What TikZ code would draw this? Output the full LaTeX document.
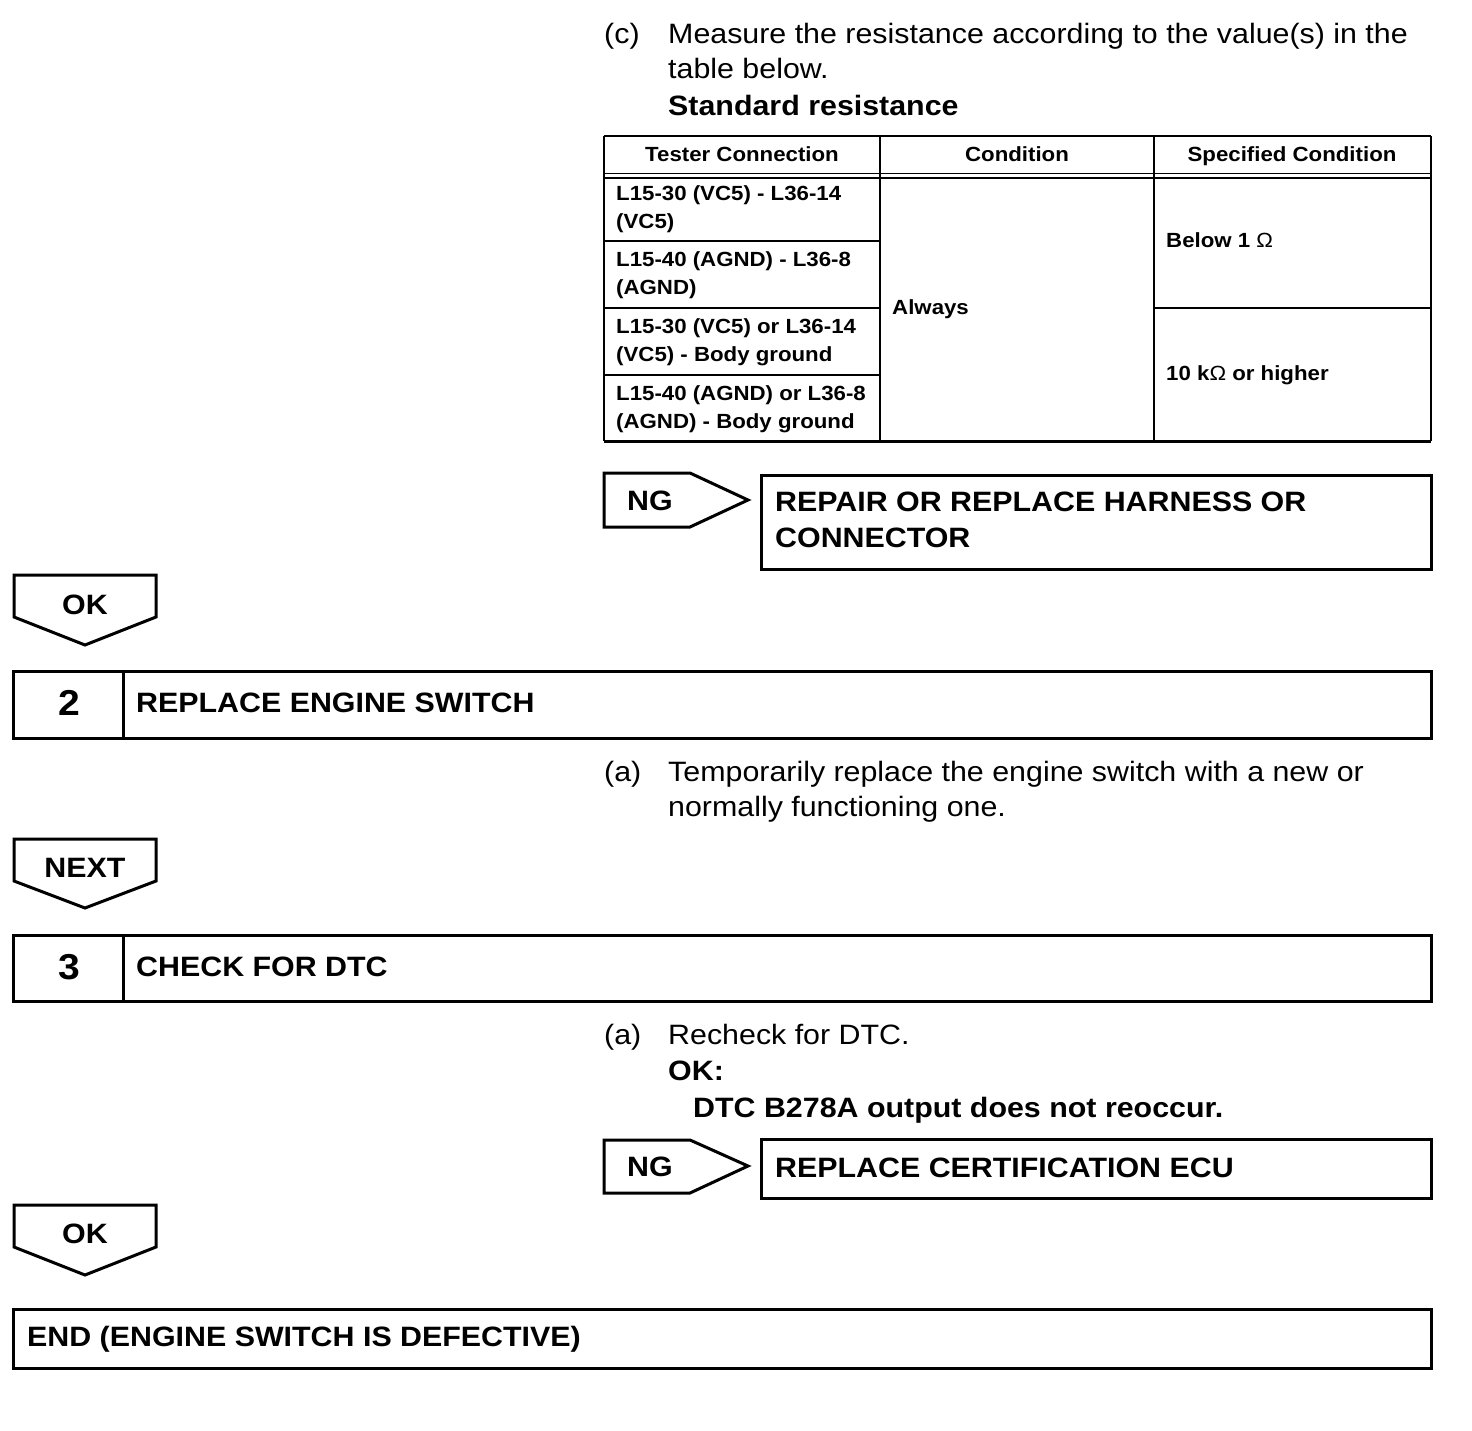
\documentclass[tikz,border=0pt]{standalone}
\usepackage{fontspec}
\setmainfont{Liberation Sans}[FakeStretch=1.085,BoldFeatures={FakeStretch=1.085}]
\begin{document}
\begin{tikzpicture}[x=1pt,y=-1pt,
  thick box/.style={line width=3pt,line join=miter},
  tab line/.style={line width=2pt},
  big/.style={font=\fontsize{28}{34}\selectfont},
  bigb/.style={font=\fontsize{28}{34}\selectfont\bfseries},
  num/.style={font=\fontsize{36}{40}\selectfont\bfseries},
  tab/.style={font=\fontsize{20.5}{28}\selectfont\bfseries},
  txt/.style={anchor=base west, inner sep=0pt},
  ctr/.style={anchor=base, inner sep=0pt}]
\useasboundingbox (0,0) rectangle (1472,1430);

% (c) instruction
\node[txt,big] (cl) at (604,43) {(c)};
\node[txt,big] (c1) at (668,43) {Measure the resistance according to the value(s) in the};
\node[txt,big] (c2) at (668,78) {table below.};
\node[txt,bigb] (c3) at (668,115) {Standard resistance};

% table
\draw[tab line] (604,136) -- (1431,136);
\draw[line width=3pt] (604,441) -- (1431,441);
\draw[tab line] (604,136) -- (604,441);
\draw[tab line] (1431,136) -- (1431,441);
\draw[line width=1.6pt] (604,173.5) -- (1431,173.5);
\draw[line width=1.6pt] (604,178) -- (1431,178);
\draw[tab line] (880,136) -- (880,441);
\draw[tab line] (1154,136) -- (1154,441);
\draw[line width=2.5pt] (604,241) -- (880,241);
\draw[line width=2.5pt] (604,308) -- (880,308);
\draw[line width=2.5pt] (604,375) -- (880,375);
\draw[tab line] (1154,308) -- (1431,308);

\node[ctr,tab] (h1) at (742,161) {Tester Connection};
\node[ctr,tab] (h2) at (1017,161) {Condition};
\node[ctr,tab] (h3) at (1292,161) {Specified Condition};

\node[txt,tab] (r1a) at (616,200.5) {L15-30 (VC5) - L36-14};
\node[txt,tab] (r1b) at (616,228.5) {(VC5)};
\node[txt,tab] (r2a) at (616,266.5) {L15-40 (AGND) - L36-8};
\node[txt,tab] (r2b) at (616,294.5) {(AGND)};
\node[txt,tab] (r3a) at (616,333.5) {L15-30 (VC5) or L36-14};
\node[txt,tab] (r3b) at (616,361.5) {(VC5) - Body ground};
\node[txt,tab] (r4a) at (616,400.5) {L15-40 (AGND) or L36-8};
\node[txt,tab] (r4b) at (616,428.5) {(AGND) - Body ground};
\node[txt,tab] (alw) at (892,314.5) {Always};
\node[txt,tab] (s1) at (1166,247.5) {Below 1 {\mdseries Ω}};
\node[txt,tab] (s2) at (1166,380.5) {10 k{\mdseries Ω} or higher};

% NG 1
\draw[thick box] (604,473) -- (690,473) -- (748,500) -- (690,527) -- (604,527) -- cycle;
\node[ctr,bigb] (ng1) at (650,510) {NG};
\draw[thick box] (761,475) rectangle (1431,569);
\node[txt,bigb] (rep1) at (775,511) {REPAIR OR REPLACE HARNESS OR};
\node[txt,bigb] (rep2) at (775,547) {CONNECTOR};

% OK 1
\draw[thick box] (14,575) -- (156,575) -- (156,617) -- (85,645) -- (14,617) -- cycle;
\node[ctr,bigb] (ok1) at (85,614) {OK};

% step 2
\draw[thick box] (13,671) rectangle (1431,738);
\draw[thick box] (123,671) -- (123,738);
\node[ctr,num] (n2) at (69,715) {2};
\node[txt,bigb] (t2) at (136,712) {REPLACE ENGINE SWITCH};

\node[txt,big] (al) at (604,781) {(a)};
\node[txt,big] (a1) at (668,781) {Temporarily replace the engine switch with a new or};
\node[txt,big] (a2) at (668,816) {normally functioning one.};

% NEXT
\draw[thick box] (14,839) -- (156,839) -- (156,881) -- (85,908) -- (14,881) -- cycle;
\node[ctr,bigb] (nx) at (85,877) {NEXT};

% step 3
\draw[thick box] (13,935) rectangle (1431,1001);
\draw[thick box] (123,935) -- (123,1001);
\node[ctr,num] (n3) at (69,979) {3};
\node[txt,bigb] (t3) at (136,976) {CHECK FOR DTC};

\node[txt,big] (bl) at (604,1044) {(a)};
\node[txt,big] (b1) at (668,1044) {Recheck for DTC.};
\node[txt,bigb] (b2) at (668,1080) {OK:};
\node[txt,bigb] (b3) at (693,1117) {DTC B278A output does not reoccur.};

% NG 2
\draw[thick box] (604,1140) -- (690,1140) -- (748,1166) -- (690,1193) -- (604,1193) -- cycle;
\node[ctr,bigb] (ng2) at (650,1176) {NG};
\draw[thick box] (761,1139) rectangle (1431,1198);
\node[txt,bigb] (rep3) at (775,1177) {REPLACE CERTIFICATION ECU};

% OK 2
\draw[thick box] (14,1205) -- (156,1205) -- (156,1247) -- (85,1275) -- (14,1247) -- cycle;
\node[ctr,bigb] (ok2) at (85,1243) {OK};

% END
\draw[thick box] (13,1309) rectangle (1431,1368);
\node[txt,bigb] (end) at (27,1346) {END (ENGINE SWITCH IS DEFECTIVE)};
\end{tikzpicture}
\end{document}
